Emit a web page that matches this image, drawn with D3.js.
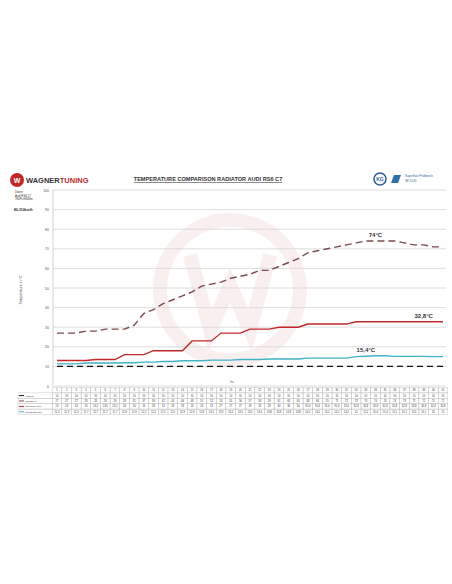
<!DOCTYPE html>
<html><head><meta charset="utf-8">
<script src="https://cdn.jsdelivr.net/npm/d3@7"></script>
<style>body{margin:0;background:#fff}svg{font-family:"Liberation Sans",Arial,sans-serif}</style>
</head><body><svg id="c" width="452" height="584"></svg>
<script>
"use strict";
var steps = d3.range(1, 42);
var ambient = steps.map(function(){return 10;});
var radiatorIn = [27,27,27,28,28,29,29,29,31,37,39,42,44,46,48,51,52,53,55,56,57,59,59,61,63,65,68,69,70,71,72,73,74,74,74,74,73,72,72,71,71];
var icOut = [13,13,13,13,13.5,13.5,13.5,16,16,16,18,18,18,18,23,23,23,27,27,27,29,29,29,30,30,30,31.6,31.6,31.6,31.6,31.6,32.8,32.8,32.8,32.8,32.8,32.8,32.8,32.8,32.8,32.8];
var icRadOut = [11.3,11.3,11.3,11.7,11.7,11.7,11.7,11.9,11.9,12.2,12.2,12.5,12.5,12.9,12.9,12.9,13.2,13.2,13.2,13.5,13.5,13.5,13.8,13.8,13.8,13.8,14.2,14.2,14.2,14.2,14.2,15,15.2,15.4,15.4,15.1,15.1,15.1,15.1,15,15];
var yTicks = d3.range(0, 101, 10);
var series = [
  {name:"Ambient", values:ambient, color:"#111", dash:"6,4", width:1.4},
  {name:"Radiator in", values:radiatorIn, color:"#7a4a4a", dash:"7,4", width:1.4},
  {name:"Intercooler Out", values:icOut, color:"#c0282a", dash:null, width:1.4},
  {name:"IC Radiator Out", values:icRadOut, color:"#3fb3c8", dash:null, width:1.4}
];
var fmt = function(v){return String(v).replace(".", ",");};

var svg = d3.select("#c");
var x = d3.scalePoint().domain(steps).range([57, 443]);
var y = d3.scaleLinear().domain([0, 100]).range([386, 190]);

// watermark
var wm = svg.append("g").attr("opacity", 0.07);
wm.append("circle").attr("cx", 230).attr("cy", 290).attr("r", 70).attr("fill", "none").attr("stroke", "#c0282a").attr("stroke-width", 14);
wm.append("path").attr("d", "M190 255 L210 330 L230 285 L250 330 L270 255").attr("fill", "none").attr("stroke", "#c0282a").attr("stroke-width", 14);

// grid
svg.append("g").selectAll("line").data(yTicks).join("line")
  .attr("x1", 53).attr("x2", 446).attr("y1", function(d){return y(d);}).attr("y2", function(d){return y(d);})
  .attr("stroke", "#d4d4d4").attr("stroke-width", 0.8);
svg.append("line").attr("x1", 53).attr("x2", 53).attr("y1", 190).attr("y2", 386).attr("stroke", "#d4d4d4");
svg.append("g").selectAll("text").data(yTicks).join("text")
  .attr("x", 49).attr("y", function(d){return y(d) + 1.5;}).attr("text-anchor", "end")
  .attr("font-size", 3.5).attr("fill", "#555").text(function(d){return d;});

var line = d3.line().x(function(d, i){return x(steps[i]);}).y(function(d){return y(d);});
series.forEach(function(s){
  svg.append("path").attr("d", line(s.values)).attr("fill", "none")
    .attr("stroke", s.color).attr("stroke-width", s.width).attr("stroke-dasharray", s.dash);
});
svg.append("text").attr("x", x(34)).attr("y", y(74) - 4).attr("text-anchor", "middle").attr("font-size", 6).attr("font-weight", "bold").attr("fill", "#333").text("74°C");
svg.append("text").attr("x", x(39)).attr("y", y(32.8) - 4).attr("text-anchor", "middle").attr("font-size", 6).attr("font-weight", "bold").attr("fill", "#333").text("32,8°C");
svg.append("text").attr("x", x(33)).attr("y", y(15.4) - 4).attr("text-anchor", "middle").attr("font-size", 6).attr("font-weight", "bold").attr("fill", "#333").text("15,4°C");

svg.append("text").attr("transform", "translate(22,290) rotate(-90)").attr("text-anchor", "middle")
  .attr("font-size", 3.6).attr("fill", "#333").text("Temperature in °C");
svg.append("text").attr("x", 232).attr("y", 383).attr("text-anchor", "middle").attr("font-size", 3.5).attr("fill", "#555").text("t/s");

// header
svg.append("circle").attr("cx", 17).attr("cy", 180).attr("r", 7).attr("fill", "#c0282a");
svg.append("text").attr("x", 17).attr("y", 182.5).attr("text-anchor", "middle").attr("font-size", 7).attr("font-weight", "bold").attr("fill", "#fff").text("W");
var brand = svg.append("text").attr("x", 26).attr("y", 183).attr("font-size", 7.5).attr("font-weight", "bold").attr("font-family", "'Liberation Sans Narrow',Arial");
brand.append("tspan").attr("fill", "#333").text("WAGNER");
brand.append("tspan").attr("fill", "#c0282a").text("TUNING");
svg.append("text").attr("x", 208).attr("y", 181).attr("text-anchor", "middle").attr("font-size", 5.6).attr("font-weight", "bold")
  .attr("font-family", "'Liberation Sans Narrow',Arial").attr("text-decoration", "underline").attr("fill", "#333")
  .text("TEMPERATURE COMPARISON RADIATOR AUDI RS6 C7");
svg.append("circle").attr("cx", 380).attr("cy", 179).attr("r", 6).attr("fill", "#fff").attr("stroke", "#2f5f9a").attr("stroke-width", 1.6);
svg.append("text").attr("x", 380).attr("y", 181).attr("text-anchor", "middle").attr("font-size", 5).attr("font-weight", "bold").attr("fill", "#2f5f9a").text("KG");
svg.append("path").attr("d", "M391 183 L394 175 L401 175 L398 183 Z").attr("fill", "#2f6fa8");
svg.append("text").attr("x", 405).attr("y", 177).attr("font-size", 3).attr("fill", "#2f5f9a").text("Superflow Prüfbench");
svg.append("text").attr("x", 405).attr("y", 182).attr("font-size", 3).attr("fill", "#2f5f9a").text("SF-1020");
["Daten:", "Audi RS6 C7", "760Ps/960Nm"].forEach(function(t, i){
  svg.append("text").attr("x", 15).attr("y", 193 + i * 3.5).attr("font-size", 2.8).attr("fill", "#333").text(t);
});
svg.append("text").attr("x", 14).attr("y", 211).attr("font-size", 3.4).attr("font-weight", "bold").attr("fill", "#222").text("80-310km/h");

// table
var cw = x.step(), rh = 5.4, tTop = 387.5, tLeft = 18;
var rows = [{name:"", values:steps, color:null}].concat(series.map(function(s){return {name:s.name, values:s.values, color:s.color};}));
var tb = svg.append("g").attr("font-size", 2.6).attr("fill", "#333");
rows.forEach(function(r, ri){
  var ry = tTop + ri * rh;
  if (ri > 0) {
    tb.append("rect").attr("x", tLeft).attr("y", ry).attr("width", x(1) - cw / 2 - tLeft).attr("height", rh).attr("fill", "none").attr("stroke", "#bbb").attr("stroke-width", 0.4);
    tb.append("line").attr("x1", tLeft + 1).attr("x2", tLeft + 6).attr("y1", ry + rh / 2).attr("y2", ry + rh / 2).attr("stroke", r.color).attr("stroke-width", 1);
    tb.append("text").attr("x", tLeft + 7).attr("y", ry + rh / 2 + 1).attr("font-size", 2.4).text(r.name);
  }
  r.values.forEach(function(v, i){
    var cx = x(steps[i]);
    tb.append("rect").attr("x", cx - cw / 2).attr("y", ry).attr("width", cw).attr("height", rh).attr("fill", "none").attr("stroke", "#bbb").attr("stroke-width", 0.4);
    tb.append("text").attr("x", cx).attr("y", ry + rh / 2 + 1).attr("text-anchor", "middle").text(fmt(v));
  });
});
</script></body></html>
